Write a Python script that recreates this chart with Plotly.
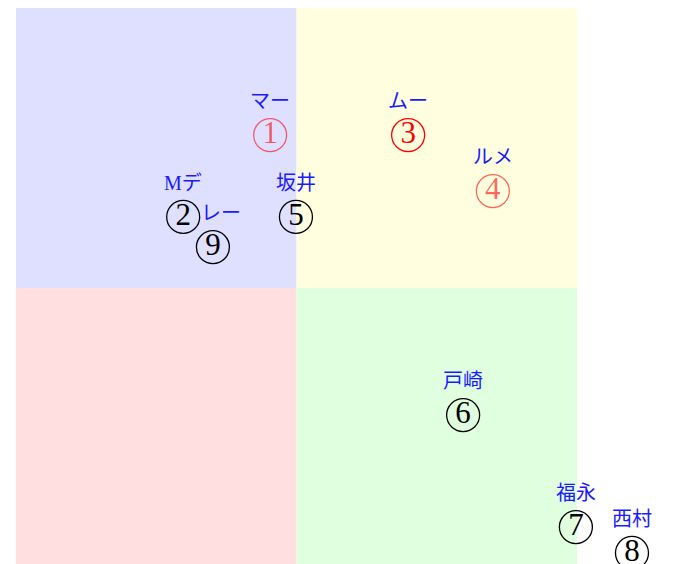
import plotly.graph_objects as go

# data
names = ["マー", "Mデ", "ムー", "ルメ", "坂井", "戸崎", "福永", "西村", "レー"]
digits = ["1", "2", "3", "4", "5", "6", "7", "8", "9"]
x_vals = [-0.47, -2.02, 1.99, 3.50, -0.01, 2.97, 4.98, 5.98, -1.49]
y_vals = [2.73, 1.27, 2.73, 1.73, 1.27, -2.27, -4.27, -4.73, 0.73]
mark_colors = ["rgba(255,0,0,0.6)", "black", "red", "rgba(255,0,0,0.6)",
               "black", "black", "black", "black", "black"]
label_dx = [0, 0, 0, 0, 0, 0, 0, 0, 8]

fig = go.Figure()

quads = [(-5, 0, 0, 5, "#dfdfff"), (0, 5, 0, 5, "#ffffdf"),
         (-5, 0, -5, 0, "#ffdfdf"), (0, 5, -5, 0, "#dfffdf")]
for x0, x1, y0, y1, c in quads:
    fig.add_shape(type="rect", x0=x0, x1=x1, y0=y0, y1=y1, fillcolor=c,
                  line=dict(width=0), layer="below")

fig.add_trace(go.Scatter(
    x=x_vals, y=y_vals, mode="markers+text", text=digits,
    marker=dict(symbol="circle-open", size=33, color=mark_colors,
                line=dict(width=1.3, color=mark_colors)),
    textfont=dict(family="Liberation Serif, DejaVu Serif, serif", size=31, color=mark_colors),
    textposition="middle center", cliponaxis=False, hoverinfo="skip"))

for n, x, y, dx in zip(names, x_vals, y_vals, label_dx):
    fig.add_annotation(x=x, y=y, text=n, showarrow=False, yshift=34, xshift=dx,
                       font=dict(family="Liberation Serif, Noto Sans CJK JP", size=20,
                                 color="#1a1aff"))

fig.update_layout(
    width=661, height=556,
    margin=dict(l=8, r=0, t=0, b=0),
    plot_bgcolor="white", paper_bgcolor="white",
    showlegend=False,
    xaxis=dict(range=[-5, 5 + 92 / 56.1], visible=False, fixedrange=True),
    yaxis=dict(range=[5 - 556 / 56, 5], visible=False, fixedrange=True),
)

fig.write_html("out.html")
